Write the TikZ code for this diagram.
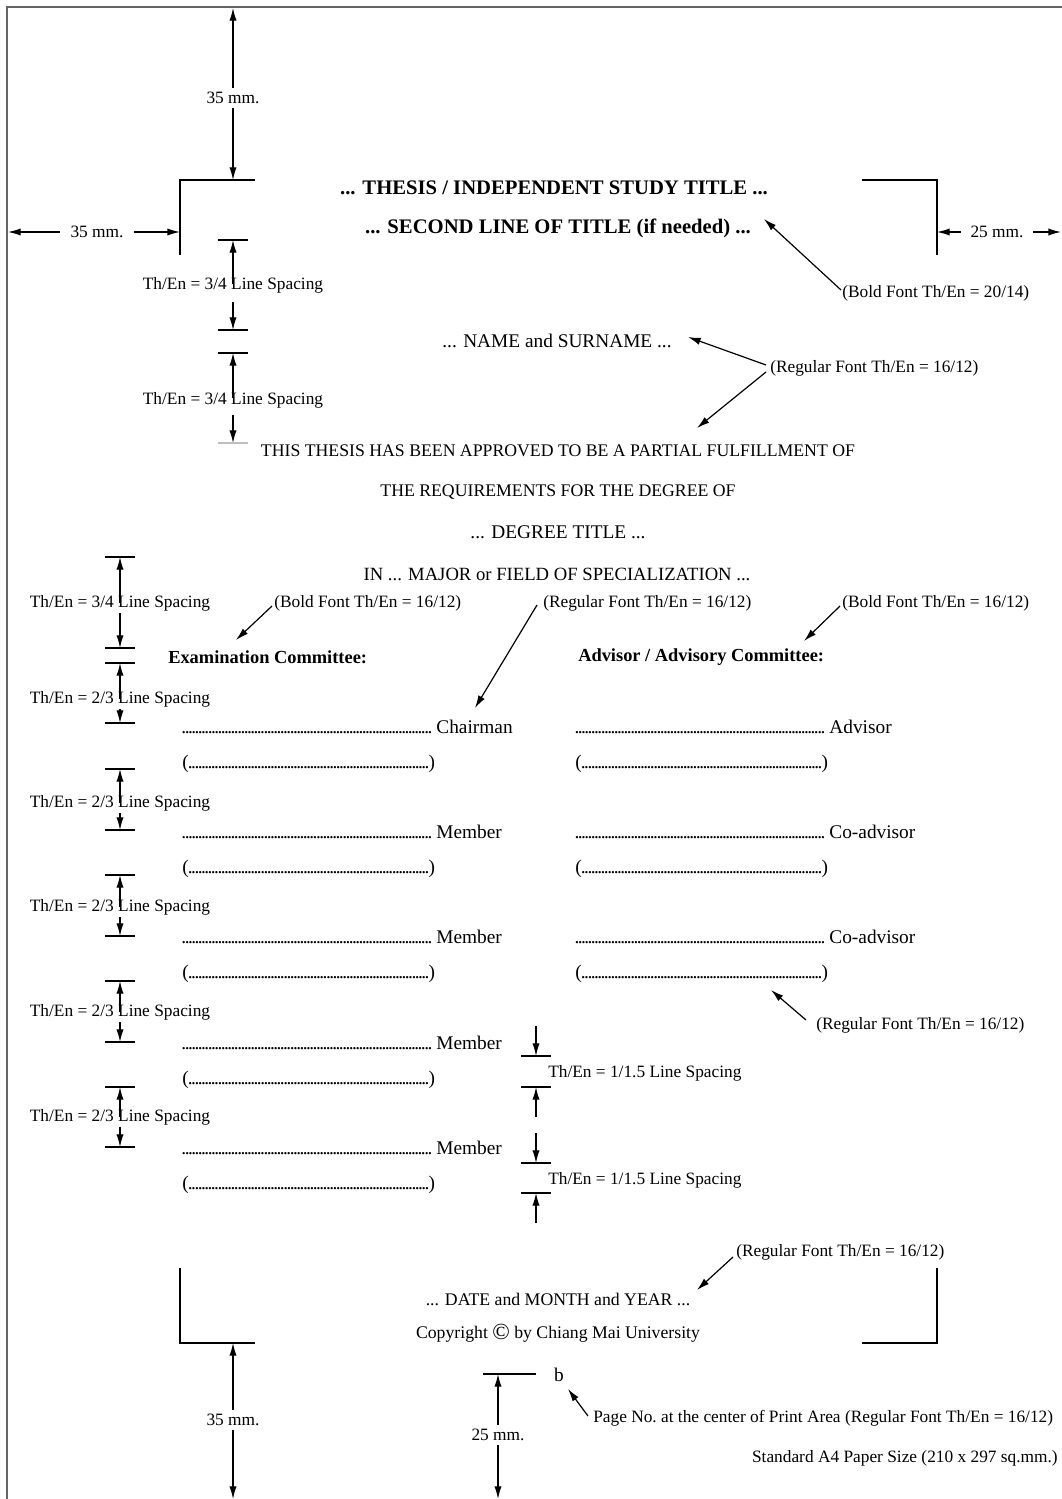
\documentclass[tikz,border=0pt]{standalone}
\usepackage{fontspec}
\setmainfont{Liberation Serif}
\usetikzlibrary{arrows.meta}
\newcommand\dotrow[1]{\hbox to #1{\xleaders\hbox to 2.45pt{\hss.\hss}\hfill}}
\begin{document}
\begin{tikzpicture}[x=0.75pt,y=-0.75pt,
  every node/.style={inner sep=0pt},
  tip/.tip={Latex[length=9.5pt,width=5.4pt]},
  dimline/.style={line width=0.9pt,tip-tip},
  arr/.style={line width=0.9pt,-tip},
  tickline/.style={line width=0.9pt},
  frameline/.style={line width=1.6pt,draw=black!60},
  note/.style={font=\fontsize{13}{15}\selectfont},
  body/.style={font=\fontsize{13.3}{16}\selectfont},
  row/.style={font=\fontsize{14.5}{17}\selectfont},
  ttl/.style={font=\fontsize{15.5}{18}\selectfont\bfseries},
  bld/.style={font=\fontsize{13.8}{17}\selectfont\bfseries},
  dimlab/.style={note,fill=white,inner sep=3pt}
]
\useasboundingbox (0,0) rectangle (1062,1499);
% page frame
\coordinate (fr) at (1062,7);
\coordinate (ftl) at (7,7);
\coordinate (fb) at (7,1499);
\draw[frameline] (fr) -- (ftl) -- (fb);

% corner marks
\draw[tickline] (255,180) -- (180,180) -- (180,255);
\draw[tickline] (862,180) -- (937,180) -- (937,255);
\draw[tickline] (180,1268) -- (180,1343) -- (255,1343);
\draw[tickline] (937,1268) -- (937,1343) -- (862,1343);

% margins
\coordinate (t35a) at (233,8);
\coordinate (t35b) at (233,180);
\draw[dimline] (t35a) -- (t35b);
\node[dimlab] (t35) at (233,98) {35 mm.};

\coordinate (l35a) at (8,232);
\coordinate (l35b) at (180,232);
\draw[dimline] (l35a) -- (l35b);
\node[dimlab,inner xsep=8pt] (l35) at (97,232) {35 mm.};

\coordinate (r25a) at (937,232);
\coordinate (r25b) at (1061,232);
\draw[dimline] (r25a) -- (r25b);
\node[dimlab,inner xsep=7pt] (r25) at (997,232) {25 mm.};

\coordinate (b35a) at (233,1343);
\coordinate (b35b) at (233,1499);
\draw[dimline] (b35a) -- (b35b);
\node[dimlab] (b35) at (233,1420) {35 mm.};

\coordinate (b25t) at (498,1374);
\coordinate (b25b) at (498,1499);
\draw[tickline] (483,1374) -- (536,1374);
\draw[dimline] (b25t) -- (b25b);
\node[dimlab] (b25) at (498,1435) {25 mm.};

% title block
\node[ttl] (title1) at (554,188) {... THESIS / INDEPENDENT STUDY TITLE ...};
\node[ttl] (title2) at (558,228) {... SECOND LINE OF TITLE (if needed) ...};
\node[note,anchor=west] (nt1) at (842,293) {(Bold Font Th/En = 20/14)};
\coordinate (nt1a) at (841,290);
\coordinate (nt1b) at (764,219);
\draw[arr] (nt1a) -- (nt1b);

\node[row] (name) at (557,341) {... NAME and SURNAME ...};
\node[note,anchor=west] (nt2) at (770,368) {(Regular Font Th/En = 16/12)};
\coordinate (nt2a) at (766,365);
\coordinate (nt2b) at (688,337);
\coordinate (nt2c) at (766,372);
\coordinate (nt2d) at (697,428);
\draw[arr] (nt2a) -- (nt2b);
\draw[arr] (nt2c) -- (nt2d);

\node[body] (th1) at (558,451) {THIS THESIS HAS BEEN APPROVED TO BE A PARTIAL FULFILLMENT OF};
\node[body] (th2) at (558,492) {THE REQUIREMENTS FOR THE DEGREE OF};
\node[row] (th3) at (558,532) {... DEGREE TITLE ...};
\node[font=\fontsize{14}{16}\selectfont] (th4) at (557,574) {IN ... MAJOR or FIELD OF SPECIALIZATION ...};

% upper spacing markers (x = 233)
\draw[tickline] (218,240) -- (248,240);
\coordinate (m1a) at (233,284);
\coordinate (m1b) at (233,240);
\draw[arr] (m1a) -- (m1b);
\coordinate (m1c) at (233,302);
\coordinate (m1d) at (233,330);
\draw[arr] (m1c) -- (m1d);
\draw[tickline] (218,330) -- (248,330);
\node[note] (m1) at (233,285) {Th/En = 3/4 Line Spacing};

\draw[tickline] (218,353) -- (248,353);
\coordinate (m2a) at (233,398);
\coordinate (m2b) at (233,353);
\draw[arr] (m2a) -- (m2b);
\coordinate (m2c) at (233,415);
\coordinate (m2d) at (233,443);
\draw[arr] (m2c) -- (m2d);
\draw[tickline,black!25] (218,443) -- (248,443);
\node[note] (m2) at (233,400) {Th/En = 3/4 Line Spacing};

% lower spacing markers (x = 120)
\foreach \top/\lab/\bot/\txt/\nm in {557/603/648/3\slash 4/m3, 663/699/723/2\slash 3/m4, 769/803/830/2\slash 3/m5, 875/907/936/2\slash 3/m6, 981/1012/1042/2\slash 3/m7, 1087/1117/1147/2\slash 3/m8}{
  \draw[tickline] (105,\top) -- (135,\top);
  \draw[tickline] (105,\bot) -- (135,\bot);
  \coordinate (\nm a) at (120,\lab);
  \coordinate (\nm b) at (120,\top);
  \draw[arr] (\nm a) -- (\nm b);
  \coordinate (\nm c) at (120,\lab+10);
  \coordinate (\nm d) at (120,\bot);
  \draw[arr] (\nm c) -- (\nm d);
  \node[note] (\nm) at (120,\lab) {Th/En = \txt\ Line Spacing};
}

% committee headings and notes
\node[bld,anchor=west] (exam) at (168,657) {Examination Committee:};
\node[bld,anchor=west] (adv) at (578,657) {Advisor / Advisory Committee:};
\node[note,anchor=west] (nb1) at (274,603) {(Bold Font Th/En = 16/12)};
\coordinate (nb1a) at (272,606);
\coordinate (nb1b) at (236,640);
\draw[arr] (nb1a) -- (nb1b);
\node[note,anchor=west] (nr1) at (543,603) {(Regular Font Th/En = 16/12)};
\coordinate (nr1a) at (537,605);
\coordinate (nr1b) at (475,708);
\draw[arr] (nr1a) -- (nr1b);
\node[note,anchor=west] (nb2) at (842,603) {(Bold Font Th/En = 16/12)};
\coordinate (nb2a) at (840,606);
\coordinate (nb2b) at (804,641);
\draw[arr] (nb2a) -- (nb2b);

% signature rows, left column
\foreach \y/\role/\nm in {727/Chairman/c1, 832/Member/c2, 937/Member/c3, 1043/Member/c4, 1148/Member/c5}{
  \node[row,anchor=west] (\nm s) at (182,\y) {\dotrow{187pt} \role};
  \node[row,anchor=west] (\nm p) at (182,\y+37) {(\dotrow{180pt})};
}
% right column
\foreach \y/\role/\nm in {727/Advisor/a1, 832/Co-advisor/a2, 937/Co-advisor/a3}{
  \node[row,anchor=west] (\nm s) at (575,\y) {\dotrow{187pt} \role};
  \node[row,anchor=west] (\nm p) at (575,\y+37) {(\dotrow{180pt})};
}
\node[note,anchor=west] (nr2) at (816,1025) {(Regular Font Th/En = 16/12)};
\coordinate (nr2a) at (806,1020);
\coordinate (nr2b) at (771,990);
\draw[arr] (nr2a) -- (nr2b);

% 1/1.5 line spacing markers (x = 536)
\foreach \t/\b/\lab/\nm in {1056/1087/1073/s1, 1163/1193/1180/s2}{
  \coordinate (\nm a) at (536,\t-30);
  \coordinate (\nm b) at (536,\t);
  \draw[arr] (\nm a) -- (\nm b);
  \draw[tickline] (521,\t) -- (551,\t);
  \draw[tickline] (521,\b) -- (551,\b);
  \coordinate (\nm c) at (536,\b+30);
  \coordinate (\nm d) at (536,\b);
  \draw[arr] (\nm c) -- (\nm d);
  \node[note,anchor=west] (\nm) at (548,\lab) {Th/En = 1/1.5 Line Spacing};
}

% bottom block
\node[note,anchor=west] (nr3) at (736,1252) {(Regular Font Th/En = 16/12)};
\coordinate (nr3a) at (733,1257);
\coordinate (nr3b) at (697,1290);
\draw[arr] (nr3a) -- (nr3b);
\node[body] (date) at (558,1299) {... DATE and MONTH and YEAR ...};
\node[body] (copy) at (558,1333) {Copyright \raisebox{-0.08em}{\scalebox{1.3}{©}} by Chiang Mai University};

\node[row] (pg) at (559,1375) {b};
\node[note,anchor=west] (npg) at (593,1418) {Page No.\ at the center of Print Area (Regular Font Th/En = 16/12)};
\coordinate (npga) at (588,1416);
\coordinate (npgb) at (568,1389);
\draw[arr] (npga) -- (npgb);

\node[note,anchor=east] (a4) at (1058,1458) {Standard A4 Paper Size (210 x 297 sq.mm.)};
\end{tikzpicture}
\end{document}
